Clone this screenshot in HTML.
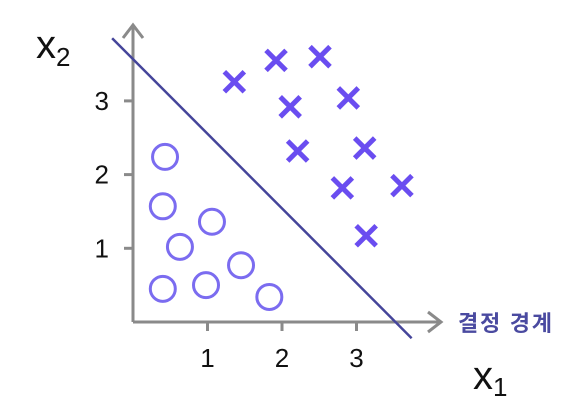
<!DOCTYPE html>
<html><head><meta charset="utf-8">
<style>
html,body{margin:0;padding:0;background:#fff;width:584px;height:413px;overflow:hidden}
svg{display:block}
text{font-family:"Liberation Sans","Noto Sans CJK KR",sans-serif}
</style></head><body>
<svg id="chart" width="584" height="413" viewBox="0 0 584 413">
<g id="axes"></g>
<g id="marks"></g>
</svg>
<script>
const xTicks = [1, 2, 3];
const yTicks = [1, 2, 3];
const circleX = [0.43, 0.40, 1.06, 0.63, 0.40, 0.98, 1.45, 1.83];
const circleY = [2.24, 1.57, 1.36, 1.02, 0.45, 0.50, 0.77, 0.34];
const crossX = [1.36, 1.92, 2.51, 2.11, 2.89, 2.21, 3.11, 2.81, 3.61, 3.13];
const crossY = [3.26, 3.55, 3.60, 2.92, 3.04, 2.32, 2.36, 1.82, 1.85, 1.17];
const boundaryX = [-0.28, 3.74];
const boundaryY = [3.85, -0.22];

const NS = "http://www.w3.org/2000/svg";
const sx = v => 133 + v * 74.5;
const sy = v => 322 - v * 73.7;
function mk(tag, attrs, parent, txt) {
  const e = document.createElementNS(NS, tag);
  for (const k in attrs) e.setAttribute(k, attrs[k]);
  if (txt !== undefined) e.textContent = txt;
  parent.appendChild(e);
  return e;
}
const axes = document.getElementById('axes');
const marks = document.getElementById('marks');
const gray = '#8a8a8a';

let e = mk('line', {x1:133, y1:322, x2:440, y2:322, stroke:gray, 'stroke-width':3}, axes);


e = mk('polyline', {points:'428,312 441,322 428,332', fill:'none', stroke:gray, 'stroke-width':3}, axes);


e = mk('line', {x1:133, y1:322, x2:133, y2:26, stroke:gray, 'stroke-width':3}, axes);


e = mk('polyline', {points:'123,38 133,25 143,38', fill:'none', stroke:gray, 'stroke-width':3}, axes);



xTicks.forEach(t => {
  let l = mk('line', {x1:sx(t), y1:322, x2:sx(t), y2:331, stroke:gray, 'stroke-width':3}, axes);
  
  
  let tx = mk('text', {x:sx(t), y:367, 'text-anchor':'middle', 'font-size':26, fill:'#111'}, axes, String(t));
  
  
});
yTicks.forEach(t => {
  let l = mk('line', {x1:124, y1:sy(t), x2:133, y2:sy(t), stroke:gray, 'stroke-width':3}, axes);
  
  
  let tx = mk('text', {x:109, y:sy(t)+9, 'text-anchor':'end', 'font-size':26, fill:'#111'}, axes, String(t));
  
  
});

let t1 = mk('text', {x:36, y:58, 'font-size':40, fill:'#111'}, axes, 'x');


mk('tspan', {'font-size':26, dy:8}, t1, '2');
let t2 = mk('text', {x:473, y:389, 'font-size':40, fill:'#111'}, axes, 'x');


mk('tspan', {'font-size':26, dy:7}, t2, '1');

let b = mk('line', {x1:sx(boundaryX[0]), y1:sy(boundaryY[0]), x2:sx(boundaryX[1]), y2:sy(boundaryY[1]), stroke:'#45459a', 'stroke-width':2.5}, marks);


let bl = mk('text', {x:458, y:331, 'font-size':22, 'font-weight':'bold', fill:'#4a4aa0', textLength:94}, marks, '결정 경계');



circleX.forEach((x, i) => {
  let c = mk('circle', {cx:sx(x), cy:sy(circleY[i]), r:12.5, fill:'none', stroke:'#7b6cf0', 'stroke-width':3}, marks);
  
  
});
crossX.forEach((x, i) => {
  const cx = sx(x), cy = sy(crossY[i]), d = 10;
  let g = mk('path', {d:`M${cx-d},${cy-d}L${cx+d},${cy+d}M${cx+d},${cy-d}L${cx-d},${cy+d}`, stroke:'#6a4df0', 'stroke-width':5, fill:'none'}, marks);
  
  
});
</script>
</body></html>
